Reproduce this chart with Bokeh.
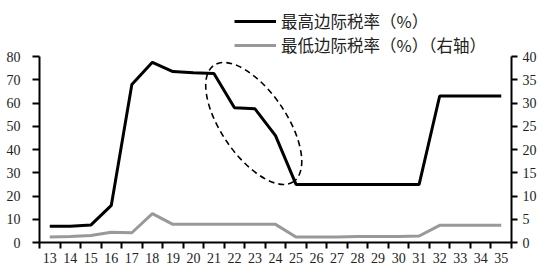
from bokeh.plotting import figure
from bokeh.models import (Range1d, LinearAxis, FixedTicker, Legend, LegendItem)
from bokeh.embed import file_html
from bokeh.resources import INLINE
import math

years = list(range(13, 36))
top_rate = [7, 7, 7.5, 16, 68, 77.5, 73.5, 73, 72.7, 58, 57.5, 46,
            25, 25, 25, 25, 25, 25, 25, 63, 63, 63, 63]
low_rate = [1.2, 1.3, 1.5, 2.2, 2.1, 6.2, 3.9, 3.9, 3.9, 3.9, 3.9, 3.9,
            1.2, 1.2, 1.2, 1.3, 1.3, 1.3, 1.4, 3.7, 3.7, 3.7, 3.7]
left_ticks = [0, 10, 20, 30, 40, 50, 60, 70, 80]
right_ticks = [0, 5, 10, 15, 20, 25, 30, 35, 40]
label_top = "最高边际税率（%）"
label_low = "最低边际税率（%）（右轴）"

# highlight ellipse (data centre, screen size)
ell_x, ell_y = 22.94, 51.2
ell_w, ell_h, ell_angle_deg = 141, 65, -55.6

NUM_FONT = "Liberation Serif"
CJK_FONT = "Noto Sans CJK SC"

# frame geometry: frame spans from 6px to 242px; axis tops (80 / 40) sit at 56px
frame_top, frame_bottom, axis_top = 6, 242, 56
scale = (frame_bottom - frame_top) / (frame_bottom - axis_top)
left_max, right_max = 80, 40

p = figure(width=554, height=276, output_backend="svg", toolbar_location=None,
           x_range=Range1d(12.5, 35.5), y_range=Range1d(0, left_max * scale),
           x_axis_type=None, y_axis_type=None,
           min_border_left=39, min_border_right=43, min_border_top=frame_top,
           min_border_bottom=276 - frame_bottom)
p.outline_line_color = None
p.xgrid.visible = False
p.ygrid.visible = False
p.background_fill_color = "white"
p.border_fill_color = "white"
p.extra_y_ranges = {"right": Range1d(0, right_max * scale)}

def style_axis(ax):
    ax.axis_line_color = "black"
    ax.axis_line_width = 2
    ax.major_tick_line_color = "black"
    ax.major_tick_line_width = 2
    ax.major_label_text_font = NUM_FONT
    ax.major_label_text_font_size = "14px"
    ax.major_label_text_color = "#222222"
    ax.minor_tick_line_color = None

xaxis = LinearAxis(ticker=FixedTicker(ticks=years,
                                      minor_ticks=[y - 0.5 for y in years] + [years[-1] + 0.5]))
style_axis(xaxis)
xaxis.major_tick_line_color = None
xaxis.major_tick_in = 0
xaxis.major_tick_out = 6
xaxis.minor_tick_line_color = "black"
xaxis.minor_tick_line_width = 2
xaxis.minor_tick_in = 0
xaxis.minor_tick_out = 6
xaxis.major_label_standoff = 4
p.add_layout(xaxis, "below")

yaxis = LinearAxis(ticker=FixedTicker(ticks=left_ticks), bounds=(0, left_max))
style_axis(yaxis)
yaxis.major_tick_in = 0
yaxis.major_tick_out = 7
yaxis.major_label_standoff = 12
p.add_layout(yaxis, "left")

yaxis2 = LinearAxis(y_range_name="right", ticker=FixedTicker(ticks=right_ticks),
                    bounds=(0, right_max))
style_axis(yaxis2)
yaxis2.major_tick_in = 0
yaxis2.major_tick_out = 6
yaxis2.major_label_standoff = 5
p.add_layout(yaxis2, "right")

r_low = p.line(years, low_rate, y_range_name="right", line_color="#999999",
               line_width=3)
r_top = p.line(years, top_rate, line_color="black", line_width=3)

p.ellipse(x=[ell_x], y=[ell_y], width=ell_w, height=ell_h,
          width_units="screen", height_units="screen",
          angle=math.radians(ell_angle_deg), fill_color=None,
          line_color="black", line_width=1.6, line_dash="6 4")

legend = Legend(items=[LegendItem(label=label_top, renderers=[r_top]),
                       LegendItem(label=label_low, renderers=[r_low])],
                location=(195, 185), orientation="vertical",
                glyph_width=42, glyph_height=24, label_height=24,
                label_standoff=5, padding=0, spacing=0, margin=0,
                border_line_color=None, background_fill_alpha=0,
                label_text_font=CJK_FONT, label_text_font_size="16.5px",
                label_text_color="#222222")
p.add_layout(legend, "center")

open("out.html", "w").write(file_html(p, INLINE))
